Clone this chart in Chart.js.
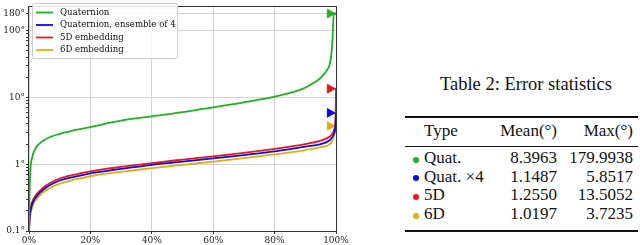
<!DOCTYPE html>
<html>
<head>
<meta charset="utf-8">
<script src="https://cdn.jsdelivr.net/npm/chart.js@4"></script>
<style>
    body { margin: 0; width: 640px; height: 245px; background: #fff; position: relative; overflow: hidden; font-family: 'Liberation Serif', serif; color: #111; }
    #plot { position: absolute; left: 0; top: 0; }
    .t { position: absolute; white-space: nowrap; font-size: 17px; line-height: 17px; }
    .rule { position: absolute; left: 405px; width: 233px; background: #111; }
    .dot { position: absolute; width: 6px; height: 6px; border-radius: 50%; }
</style>
</head>
<body>
<canvas id="plot" width="352" height="245"></canvas>
<div id="tbl"></div>
<script>
var seriesNames = ['Quaternion', 'Quaternion, ensemble of 4', '5D embedding', '6D embedding'];
var seriesColors = ['#1db31d', '#0a0af0', '#f01414', '#e6ac0c'];

// sorted error (degrees) against percentile of test samples
var quatPct = [0, 0.2, 0.5, 1, 2, 5, 10, 15, 20, 25, 30, 40, 50, 60, 70, 80, 85, 88, 91.5, 95, 97, 98, 98.5, 98.9, 99.1, 99.3, 100];
var quatErr = [0.1, 0.4, 0.9, 1.25, 1.7, 2.3, 2.85, 3.25, 3.6, 4.05, 4.5, 5.2, 6.0, 7.1, 8.4, 10.3, 11.7, 12.8, 15.2, 19.6, 25.2, 31.6, 44, 79, 137, 175, 180];

var embPct = [0, 0.2, 0.5, 1, 2, 5, 10, 15, 20, 25, 30, 40, 50, 60, 70, 80, 85, 90, 95, 98, 99, 99.5, 99.8, 100];
var quat4Err = [0.1, 0.16, 0.2, 0.25, 0.31, 0.43, 0.57, 0.65, 0.73, 0.79, 0.85, 0.98, 1.09, 1.22, 1.37, 1.55, 1.68, 1.83, 2.0, 2.3, 2.65, 3.0, 3.6, 5.85];
var emb5Err = [0.1, 0.17, 0.22, 0.27, 0.33, 0.46, 0.61, 0.7, 0.78, 0.85, 0.91, 1.04, 1.17, 1.31, 1.48, 1.69, 1.83, 2.0, 2.25, 2.6, 2.95, 3.4, 4.0, 13.5];
var emb6Err = [0.1, 0.14, 0.18, 0.22, 0.28, 0.39, 0.51, 0.59, 0.66, 0.72, 0.77, 0.87, 0.98, 1.09, 1.23, 1.4, 1.5, 1.63, 1.8, 2.0, 2.35, 2.8, 3.3, 3.72];

var xTickValues = [0, 20, 40, 60, 80, 100];
var yLabelValues = [0.1, 1, 10, 100, 180];
var yLabels = ['0.1°', '1°', '10°', '100°', '180°'];
var yTickValues = [0.1, 0.2, 0.3, 0.4, 0.5, 0.6, 0.7, 0.8, 0.9, 1, 2, 3, 4, 5, 6, 7, 8, 9,
    10, 20, 30, 40, 50, 60, 70, 80, 90, 100, 180];

var tableHeaders = ['Type', 'Mean(°)', 'Max(°)'];
var tableTypes = ['Quat.', 'Quat. ×4', '5D', '6D'];
var tableMeans = ['8.3963', '1.1487', '1.2550', '1.0197'];
var tableMaxes = ['179.9938', '5.8517', '13.5052', '3.7235'];
var markerPct = 98;

function toPoints(xs, ys) {
    return xs.map(function (x, i) { return { x: x, y: ys[i] }; });
}

var curves = [toPoints(quatPct, quatErr), toPoints(embPct, quat4Err), toPoints(embPct, emb5Err), toPoints(embPct, emb6Err)];
var datasets = [];
for (var i = 0; i < curves.length; i++) {
    datasets.push({
        label: seriesNames[i],
        data: curves[i],
        borderColor: seriesColors[i],
        borderWidth: 1.8,
        pointRadius: 0,
        cubicInterpolationMode: 'monotone',
        fill: false
    });
}
// max markers
for (var i = 0; i < tableMaxes.length; i++) {
    var m = parseFloat(tableMaxes[i]);
    datasets.push({
        label: '',
        data: [{ x: markerPct, y: m }, { x: 100, y: m }],
        borderColor: seriesColors[i],
        backgroundColor: seriesColors[i],
        borderWidth: 1.8,
        pointStyle: 'triangle',
        rotation: 90,
        pointRadius: [5, 0],
        pointBorderWidth: 1,
        fill: false
    });
}

var frameAndLegend = {
    id: 'frameAndLegend',
    afterDraw: function (chart) {
        var ctx = chart.ctx;
        var a = chart.chartArea;
        ctx.save();
        ctx.strokeStyle = '#333';
        ctx.lineWidth = 1;
        ctx.strokeRect(Math.round(a.left) - 0.5, Math.round(a.top) + 0.5, Math.round(a.right - a.left) + 1, Math.round(a.bottom - a.top));

        ctx.beginPath();
        ctx.roundRect(32.5, 3.5, 145, 55, 2);
        ctx.fillStyle = 'rgba(255,255,255,0.85)';
        ctx.fill();
        ctx.strokeStyle = '#cccccc';
        ctx.stroke();
        ctx.font = '8.6px "DejaVu Serif"';
        ctx.textBaseline = 'middle';
        for (var i = 0; i < seriesNames.length; i++) {
            var y = 12.5 + i * 12.5;
            ctx.beginPath();
            ctx.moveTo(36, y);
            ctx.lineTo(53, y);
            ctx.strokeStyle = seriesColors[i];
            ctx.lineWidth = 1.8;
            ctx.stroke();
            ctx.fillStyle = '#111';
            ctx.fillText(seriesNames[i], 60, y);
        }
        ctx.restore();
    }
};

Chart.defaults.font.family = '"DejaVu Serif"';
Chart.defaults.font.size = 9;
Chart.defaults.color = '#222';

new Chart(document.getElementById('plot'), {
    type: 'line',
    data: { datasets: datasets },
    options: {
        responsive: false,
        animation: false,
        devicePixelRatio: 1,
        layout: { padding: { top: 1, right: 16, left: 0, bottom: 0 } },
        plugins: { legend: { display: false }, tooltip: { enabled: false } },
        scales: {
            x: {
                type: 'linear',
                min: 0,
                max: 100,
                afterBuildTicks: function (scale) {
                    scale.ticks = xTickValues.map(function (v) { return { value: v }; });
                },
                afterFit: function (scale) { scale.height = 14; },
                ticks: {
                    padding: 1,
                    maxRotation: 0,
                    callback: function (v) { return v + '%'; }
                },
                grid: { color: '#d3d3d3', tickColor: '#333', tickLength: 3 },
                border: { display: false }
            },
            y: {
                type: 'logarithmic',
                min: 0.1,
                max: 230,
                afterBuildTicks: function (scale) {
                    scale.ticks = yTickValues.map(function (v) { return { value: v }; });
                },
                afterFit: function (scale) { scale.width = 29; },
                ticks: {
                    padding: 1,
                    autoSkip: false,
                    callback: function (v) {
                        var k = yLabelValues.indexOf(v);
                        return k >= 0 ? yLabels[k] : '';
                    }
                },
                grid: {
                    color: function (c) {
                        return c.tick && yLabelValues.indexOf(c.tick.value) >= 0 ? '#d3d3d3' : 'rgba(0,0,0,0)';
                    },
                    tickColor: '#333',
                    tickLength: 3
                },
                border: { display: false }
            }
        }
    },
    plugins: [frameAndLegend]
});

// Table 2
var tbl = document.getElementById('tbl');
function addDiv(cls, css, text) {
    var d = document.createElement('div');
    d.className = cls;
    d.style.cssText = css;
    if (text !== undefined) d.textContent = text;
    tbl.appendChild(d);
    return d;
}
addDiv('t', 'left:440px;top:75px;font-size:18.5px;line-height:19px;', 'Table 2: Error statistics');
addDiv('rule', 'top:116px;height:1.5px;');
addDiv('rule', 'top:145.6px;height:0.8px;');
addDiv('rule', 'top:230.4px;height:1.5px;');
addDiv('t', 'left:424px;top:122px;', tableHeaders[0]);
addDiv('t', 'right:83px;top:122px;text-align:right;', tableHeaders[1]);
addDiv('t', 'right:7px;top:122px;text-align:right;', tableHeaders[2]);
for (var r = 0; r < tableTypes.length; r++) {
    var rowTop = 149 + r * 18.7;
    addDiv('dot', 'left:413px;top:' + (rowTop + 7.5) + 'px;background:' + seriesColors[r] + ';');
    addDiv('t', 'left:424px;top:' + rowTop + 'px;', tableTypes[r]);
    addDiv('t', 'right:83px;top:' + rowTop + 'px;text-align:right;', tableMeans[r]);
    addDiv('t', 'right:7px;top:' + rowTop + 'px;text-align:right;', tableMaxes[r]);
}
</script>
</body>
</html>
